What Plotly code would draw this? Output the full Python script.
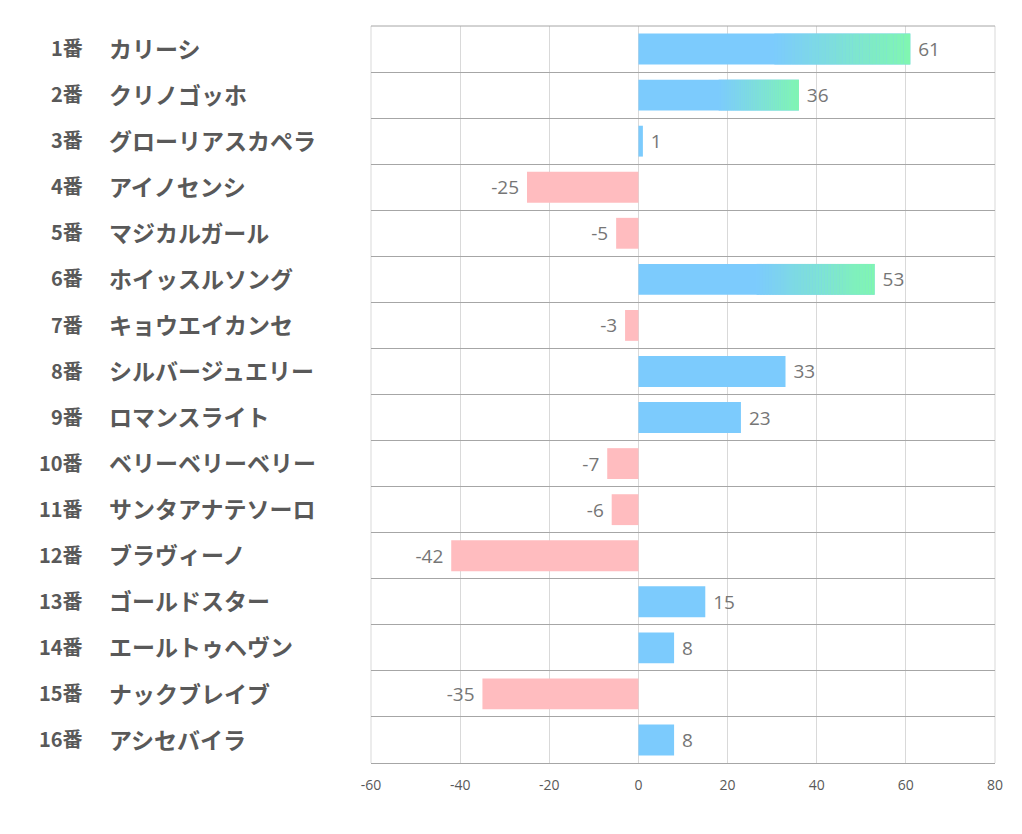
import plotly.graph_objects as go

numbers = ["1番", "2番", "3番", "4番", "5番", "6番", "7番", "8番",
           "9番", "10番", "11番", "12番", "13番", "14番", "15番", "16番"]
names = ["カリーシ", "クリノゴッホ", "グローリアスカペラ", "アイノセンシ", "マジカルガール",
         "ホイッスルソング", "キョウエイカンセ", "シルバージュエリー", "ロマンスライト",
         "ベリーベリーベリー", "サンタアナテソーロ", "ブラヴィーノ", "ゴールドスター",
         "エールトゥヘヴン", "ナックブレイブ", "アシセバイラ"]
values = [61, 36, 1, -25, -5, 53, -3, 33, 23, -7, -6, -42, 15, 8, -35, 8]
x_ticks = [-60, -40, -20, 0, 20, 40, 60, 80]
x_tick_labels = ["-60", "-40", "-20", "0", "20", "40", "60", "80"]

BLUE = (124, 203, 253)
GREEN = (128, 247, 176)
PINK = "#FFBCBF"
GRADIENT_MIN = 35
N_SLICES = 40
BAR_W = 0.67

# page is drawn with an 8px body offset
W, H = 1006, 818
ML, MR, MT, MB = 363, 19, 18, 63
PW = W - ML - MR

idx = list(range(len(values)))
fig = go.Figure()

fig.add_trace(go.Bar(
    orientation="h", y=idx, x=values, width=BAR_W,
    marker=dict(color=[f"rgb{BLUE}" if v >= 0 else PINK for v in values], line=dict(width=0)),
    text=[(" " + str(v)) if v >= 0 else (str(v) + " ") for v in values], textposition="outside",
    textfont=dict(family="Open Sans", size=19, color="#767676"),
    cliponaxis=False, hoverinfo="skip",
))

grad = [(i, v) for i, v in zip(idx, values) if v > GRADIENT_MIN]
for k in range(N_SLICES):
    t = (k + 0.5) / N_SLICES
    col = tuple(round(BLUE[c] + (GREEN[c] - BLUE[c]) * t) for c in range(3))
    ys, xs, bases = [], [], []
    for i, v in grad:
        s = v * 0.5
        seg = (v - s) / N_SLICES
        ys.append(i)
        bases.append(s + seg * k)
        xs.append(seg * 1.02 if k < N_SLICES - 1 else seg)
    fig.add_trace(go.Bar(orientation="h", y=ys, x=xs, base=bases, width=BAR_W,
                         marker=dict(color=f"rgb{col}", line=dict(width=0)),
                         hoverinfo="skip", showlegend=False))

annotations = []
for i in idx:
    annotations.append(dict(x=(85 - 8 - ML) / PW, y=i - 0.03, xref="paper", yref="y", text=numbers[i],
                            showarrow=False, xanchor="right", yanchor="middle",
                            font=dict(family="Noto Sans CJK JP", size=20, color="#595959", weight="bold")))
    annotations.append(dict(x=(107 - 8 - ML) / PW, y=i - 0.03, xref="paper", yref="y", text=names[i],
                            showarrow=False, xanchor="left", yanchor="middle",
                            font=dict(family="Noto Sans CJK JP", size=23, color="#595959", weight="bold")))

shapes = [
    dict(type="line", xref="paper", yref="paper", x0=0, x1=1, y0=1, y1=1,
         line=dict(color="#a6a6a6", width=1)),
    dict(type="line", xref="paper", yref="paper", x0=0, x1=0, y0=0, y1=1,
         line=dict(color="#d9d9d9", width=1), layer="below"),
    dict(type="line", xref="paper", yref="paper", x0=1, x1=1, y0=0, y1=1,
         line=dict(color="#d9d9d9", width=1), layer="below"),
]

fig.update_layout(
    width=W, height=H, margin=dict(l=ML, r=MR, t=MT, b=MB),
    paper_bgcolor="white", plot_bgcolor="white",
    barmode="overlay", showlegend=False, annotations=annotations, shapes=shapes,
    xaxis=dict(range=[x_ticks[0], x_ticks[-1]], tickvals=x_ticks, ticktext=x_tick_labels,
               showgrid=True, gridcolor="#d9d9d9", gridwidth=1, zeroline=False, showline=True,
               linecolor="#a6a6a6", linewidth=1, ticks="outside", ticklen=9,
               tickcolor="rgba(0,0,0,0)",
               tickfont=dict(family="Open Sans", size=14, color="#595959")),
    yaxis=dict(range=[len(values) - 0.5, -0.5], tickvals=[i - 0.5 for i in range(len(values) + 1)],
               showticklabels=False, showgrid=True, gridcolor="#a6a6a6", gridwidth=1,
               zeroline=False, ticks=""),
)

fig.write_html("out.html")
